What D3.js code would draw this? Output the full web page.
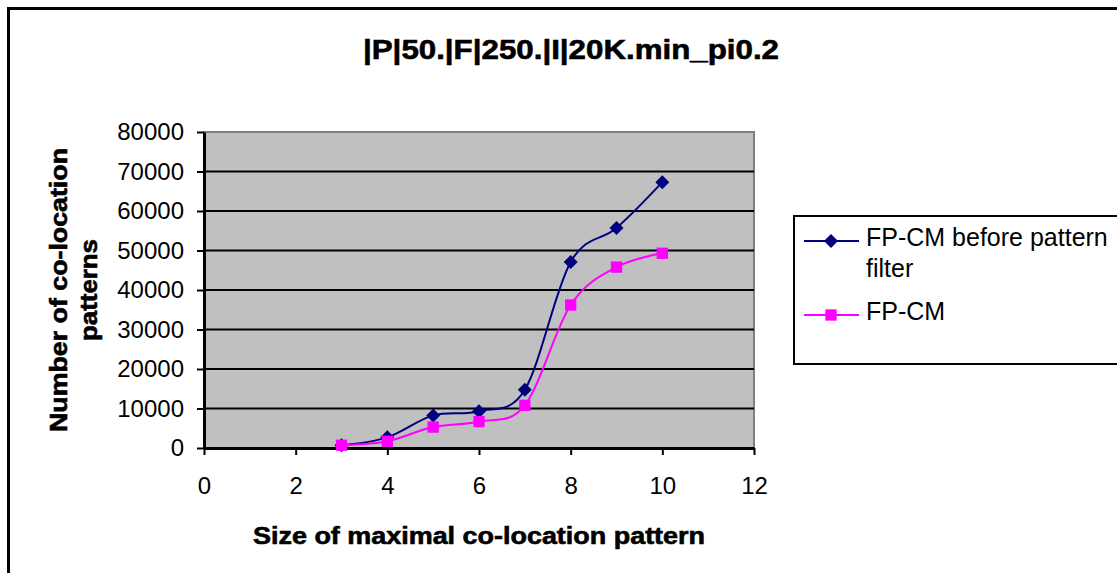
<!DOCTYPE html>
<html>
<head>
<meta charset="utf-8">
<script src="https://cdn.jsdelivr.net/npm/d3@7"></script>
<style>
  body { margin: 0; background: #fff; }
  svg { display: block; font-family: 'Liberation Sans', Arial, sans-serif; }
</style>
</head>
<body>
<div id="chart"></div>
<script>
// data
const sizes = [3, 4, 5, 6, 7, 8, 9, 10]
const beforeFilter = [700, 2700, 8250, 9300, 14750, 47100, 55700, 67300]
const fpcm = [700, 1700, 5300, 6700, 10800, 36200, 45800, 49300]
const seriesNames = ['FP-CM before pattern filter', 'FP-CM']
const xTicks = [0, 2, 4, 6, 8, 10, 12]
const yTicks = [0, 10000, 20000, 30000, 40000, 50000, 60000, 70000, 80000]

const W = 1117
const H = 573
const plot = { left: 204, right: 754, top: 132, bottom: 448 }

const svg = d3.select('#chart').append('svg')
  .attr('width', W)
  .attr('height', H)

// outer chart border (right and bottom run off the picture)
svg.append('rect')
  .attr('x', 8.5).attr('y', 8.5)
  .attr('width', W + 20).attr('height', H + 20)
  .style('fill', '#fff')
  .style('stroke', '#000')
  .style('stroke-width', 3)

const x = d3.scaleLinear().domain([0, 12]).range([plot.left, plot.right])
const y = d3.scaleLinear().domain([0, 80000]).range([plot.bottom, plot.top])

// plot area
svg.append('rect')
  .attr('x', x(0)).attr('y', y(80000))
  .attr('width', x(12) - x(0)).attr('height', y(0) - y(80000))
  .style('fill', '#c0c0c0')
  .style('stroke', '#808080')
  .style('stroke-width', 2)

// gridlines
svg.append('g')
  .selectAll('line')
  .data(yTicks.filter(d => d > 0 && d < 80000))
  .enter().append('line')
  .attr('x1', x(0)).attr('x2', x(12))
  .attr('y1', d => y(d)).attr('y2', d => y(d))
  .style('stroke', '#000')
  .style('stroke-width', 2)

const yAxis = d3.axisLeft(y)
  .tickValues(yTicks)
  .tickFormat(d3.format('d'))
  .tickSize(7)
  .tickSizeOuter(0)
  .tickPadding(13)

const xAxis = d3.axisBottom(x)
  .tickValues(xTicks)
  .tickSize(7)
  .tickSizeOuter(0)
  .tickPadding(22)

const gy = svg.append('g')
  .attr('transform', `translate(${x(0)},0)`)
  .call(yAxis)
const gx = svg.append('g')
  .attr('transform', `translate(0,${y(0)})`)
  .call(xAxis)

;[gx, gy].forEach(g => {
  g.select('.domain').style('stroke', '#000').style('stroke-width', 3)
  g.selectAll('.tick line').style('stroke', '#000').style('stroke-width', 2)
  g.selectAll('.tick text')
    .style('font-size', '24px')
    .style('font-family', "'Liberation Sans', Arial, sans-serif")
    .style('fill', '#000')
})

// series
const series = [
  { name: seriesNames[0], values: beforeFilter, color: '#000080', shape: 'diamond' },
  { name: seriesNames[1], values: fpcm, color: '#ff00ff', shape: 'square' }
]

const line = d3.line()
  .x(d => x(d[0]))
  .y(d => y(d[1]))
  .curve(d3.curveCardinal.tension(0))

const markerPath = shape => shape === 'diamond'
  ? d3.symbol(d3.symbolSquare, 98)()
  : d3.symbol(d3.symbolSquare, 128)()

series.forEach(s => {
  const pts = sizes.map((k, i) => [k, s.values[i]])
  svg.append('path')
    .datum(pts)
    .attr('d', line)
    .style('fill', 'none')
    .style('stroke', s.color)
    .style('stroke-width', 2)

  svg.append('g')
    .selectAll('path')
    .data(pts)
    .enter().append('path')
    .attr('d', markerPath(s.shape))
    .attr('transform', d => `translate(${x(d[0])},${y(d[1])})` + (s.shape === 'diamond' ? ' rotate(45)' : ''))
    .style('fill', s.color)
})

const boldText = sel => sel
  .style('font-weight', 'bold')
  .style('stroke', '#000')
  .style('stroke-width', 0.6)

// title
svg.append('text')
  .attr('x', 571)
  .attr('y', 59)
  .attr('text-anchor', 'middle')
  .attr('textLength', 416)
  .attr('lengthAdjust', 'spacingAndGlyphs')
  .style('font-size', '27px')
  .call(boldText)
  .text('|P|50.|F|250.|I|20K.min_pi0.2')

// x axis title
svg.append('text')
  .attr('x', 479)
  .attr('y', 544)
  .attr('text-anchor', 'middle')
  .attr('textLength', 452)
  .attr('lengthAdjust', 'spacingAndGlyphs')
  .style('font-size', '23px')
  .call(boldText)
  .text('Size of maximal co-location pattern')

// y axis title, two lines
const yTitle = [['Number of co-location', 67, 284], ['patterns', 97, 102]]
yTitle.forEach(([t, bx, len]) => {
  svg.append('text')
    .attr('transform', `translate(${bx},${(plot.top + plot.bottom) / 2}) rotate(-90)`)
    .attr('text-anchor', 'middle')
    .attr('textLength', len)
    .attr('lengthAdjust', 'spacingAndGlyphs')
    .style('font-size', '23px')
    .call(boldText)
    .text(t)
})

// legend
const legend = svg.append('g')
legend.append('rect')
  .attr('x', 794).attr('y', 216)
  .attr('width', 400).attr('height', 148)
  .style('fill', '#fff')
  .style('stroke', '#000')
  .style('stroke-width', 2)

const legendRows = [
  { s: series[0], y: 241, lines: ['FP-CM before pattern', 'filter'] },
  { s: series[1], y: 315, lines: ['FP-CM'] }
]
legendRows.forEach(r => {
  legend.append('line')
    .attr('x1', 804).attr('x2', 859)
    .attr('y1', r.y).attr('y2', r.y)
    .style('stroke', r.s.color)
    .style('stroke-width', 2)
  legend.append('path')
    .attr('d', markerPath(r.s.shape))
    .attr('transform', `translate(831,${r.y})` + (r.s.shape === 'diamond' ? ' rotate(45)' : ''))
    .style('fill', r.s.color)
  r.lines.forEach((t, i) => {
    legend.append('text')
      .attr('x', 866)
      .attr('y', r.y + 5 + i * 31)
      .style('font-size', '25px')
      .text(t)
  })
})
</script>
</body>
</html>
